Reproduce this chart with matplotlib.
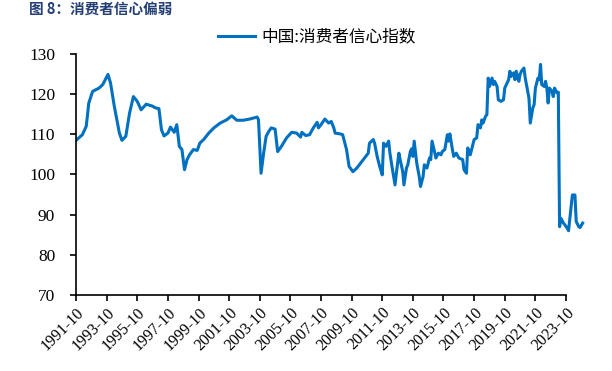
import matplotlib
matplotlib.use("Agg")
import matplotlib.pyplot as plt
import matplotlib.dates as mdates
import pandas as pd

# 中国:消费者信心指数
dates = [
    "1991-10", "1992-03", "1992-06", "1992-08", "1992-11", "1993-04", "1993-07", "1993-11",
    "1994-01", "1994-04", "1994-08", "1994-10", "1995-01", "1995-04", "1995-07", "1995-10",
    "1996-01", "1996-05", "1996-10", "1996-12", "1997-03", "1997-05", "1997-07", "1997-10",
    "1997-12", "1998-03", "1998-05", "1998-07", "1998-09", "1998-11", "1999-01", "1999-03",
    "1999-06", "1999-09", "1999-11", "2000-02", "2000-06", "2000-10", "2001-03", "2001-08",
    "2001-12", "2002-04", "2002-09", "2003-02", "2003-08", "2003-09", "2003-11", "2004-01",
    "2004-03", "2004-05", "2004-07", "2004-10", "2004-12", "2005-03", "2005-07", "2005-11",
    "2006-03", "2006-06", "2006-07", "2006-10", "2007-01", "2007-04", "2007-07", "2007-08",
    "2007-10", "2008-01", "2008-04", "2008-06", "2008-08", "2008-09", "2009-01", "2009-03",
    "2009-06", "2009-08", "2009-11", "2010-02", "2010-05", "2010-08", "2010-11", "2010-12",
    "2011-03", "2011-04", "2011-06", "2011-08", "2011-10", "2011-11", "2012-01", "2012-03",
    "2012-04", "2012-06", "2012-08", "2012-09", "2012-11", "2012-12", "2013-02", "2013-03",
    "2013-05", "2013-06", "2013-08", "2013-09", "2013-10", "2013-11", "2014-01", "2014-03",
    "2014-04", "2014-06", "2014-07", "2014-09", "2014-11", "2014-12", "2015-01", "2015-03",
    "2015-04", "2015-06", "2015-08", "2015-09", "2015-11", "2016-01", "2016-02", "2016-03",
    "2016-05", "2016-06", "2016-08", "2016-10", "2017-01", "2017-02", "2017-04", "2017-05",
    "2017-07", "2017-09", "2017-10", "2017-12", "2018-01", "2018-03", "2018-04", "2018-05",
    "2018-07", "2018-08", "2018-09", "2018-10", "2018-12", "2019-01", "2019-02", "2019-04",
    "2019-05", "2019-07", "2019-09", "2019-10", "2020-01", "2020-02", "2020-03", "2020-05",
    "2020-06", "2020-07", "2020-09", "2020-10", "2020-11", "2021-01", "2021-02", "2021-03",
    "2021-05", "2021-06", "2021-08", "2021-09", "2021-10", "2021-12", "2022-01", "2022-02",
    "2022-03", "2022-05", "2022-06", "2022-07", "2022-08", "2022-09", "2022-11", "2022-12",
    "2023-01", "2023-03", "2023-04", "2023-05", "2023-06", "2023-08", "2023-09", "2023-11",
    "2023-12", "2024-01", "2024-03", "2024-05", "2024-06", "2024-08", "2024-09", "2024-11",
]
confidence = [
    108.5, 109.9, 112.0, 117.8, 120.7, 121.5, 122.4, 124.9,
    122.8, 117.0, 110.3, 108.5, 109.5, 115.3, 119.4, 118.2,
    116.1, 117.5, 117.0, 116.6, 116.4, 111.1, 109.6, 110.3,
    111.8, 110.5, 112.4, 107.0, 106.2, 101.2, 103.7, 104.9,
    106.2, 106.0, 107.8, 108.7, 110.3, 111.6, 112.8, 113.6,
    114.6, 113.5, 113.5, 113.8, 114.3, 113.6, 100.3, 105.3,
    109.5, 110.7, 111.6, 111.3, 105.7, 107.0, 109.1, 110.5,
    110.3, 109.3, 110.5, 109.7, 109.9, 111.6, 113.0, 111.6,
    112.4, 113.8, 112.8, 113.2, 111.6, 110.3, 110.1, 109.9,
    106.2, 102.0, 100.7, 101.6, 102.8, 104.0, 105.3, 107.8,
    108.7, 107.8, 104.5, 102.0, 99.9, 107.8, 107.0, 108.3,
    105.3, 101.2, 97.4, 100.3, 105.3, 103.7, 100.7, 97.4,
    101.6, 102.4, 105.7, 106.4, 104.5, 108.3, 102.8, 99.5,
    97.0, 99.5, 102.4, 101.6, 104.1, 103.7, 108.3, 105.7,
    104.1, 105.3, 104.9, 105.7, 106.2, 109.9, 108.3, 110.1,
    106.2, 104.5, 105.3, 104.1, 103.7, 101.2, 100.3, 106.6,
    104.9, 107.4, 108.7, 109.1, 112.4, 111.6, 113.6, 112.8,
    114.5, 114.9, 124.0, 121.9, 124.0, 122.4, 123.2, 121.9,
    118.6, 118.2, 118.6, 121.5, 123.6, 125.7, 124.4, 125.3,
    123.6, 125.7, 123.2, 124.9, 125.7, 126.5, 124.0, 122.4,
    119.0, 112.8, 116.6, 117.4, 121.5, 124.0, 123.6, 127.4,
    122.4, 121.9, 123.2, 121.5, 117.8, 121.5, 120.7, 119.4,
    121.5, 120.3, 120.5, 87.0, 89.1, 87.9, 87.5, 86.6,
    86.0, 89.1, 94.9, 94.9, 88.3, 87.0, 86.8, 87.9,
]
tick_labels = ["1991-10", "1993-10", "1995-10", "1997-10", "1999-10", "2001-10",
               "2003-10", "2005-10", "2007-10", "2009-10", "2011-10", "2013-10",
               "2015-10", "2017-10", "2019-10", "2021-10", "2023-10"]

cjk = ["Noto Sans CJK SC", "DejaVu Sans"]
serif = "Liberation Serif"
blue = "#0070C0"

x = pd.to_datetime(dates, format="%Y-%m")
ticks = pd.to_datetime(tick_labels, format="%Y-%m")

fig = plt.figure(figsize=(6.12, 3.71), dpi=100)
ax = fig.add_axes([0.1242, 0.2049, 0.8333, 0.6496])

ax.plot(x, confidence, color=blue, lw=2.2, solid_joinstyle="round",
        label="中国:消费者信心指数")

ax.set_ylim(70, 130)
ax.set_yticks(range(70, 131, 10))
ax.set_xlim(ticks[0], pd.Timestamp("2025-01-20"))
ax.set_xticks(ticks)
ax.xaxis.set_major_formatter(mdates.DateFormatter("%Y-%m"))

for side in ("top", "right"):
    ax.spines[side].set_visible(False)
for side in ("left", "bottom"):
    ax.spines[side].set_linewidth(1.2)
ax.spines["bottom"].set_bounds(mdates.date2num(ticks[0]), mdates.date2num(ticks[-1]))

ax.tick_params(axis="both", direction="out", length=4, width=1.2, color="black")
ax.tick_params(axis="y", pad=11)
ax.tick_params(axis="x", pad=3)
for lab in ax.get_yticklabels():
    lab.set_fontfamily(serif)
    lab.set_fontsize(12.5)
for lab in ax.get_xticklabels():
    lab.set_fontfamily(serif)
    lab.set_fontsize(11.5)
    lab.set_rotation(45)
    lab.set_ha("right")
    lab.set_va("top")
    lab.set_rotation_mode("anchor")

ax.legend(loc="center", bbox_to_anchor=(0.472, 1.07), frameon=False,
          handlelength=2.2, handletextpad=0.4, borderaxespad=0,
          prop={"family": cjk, "size": 12})

fig.text(0.047, 0.998, "图 8：消费者信心偏弱", ha="left", va="top",
         fontsize=10.5, fontweight="bold", color="#243F74", family=cjk)

fig.savefig("out.png", dpi=100)
